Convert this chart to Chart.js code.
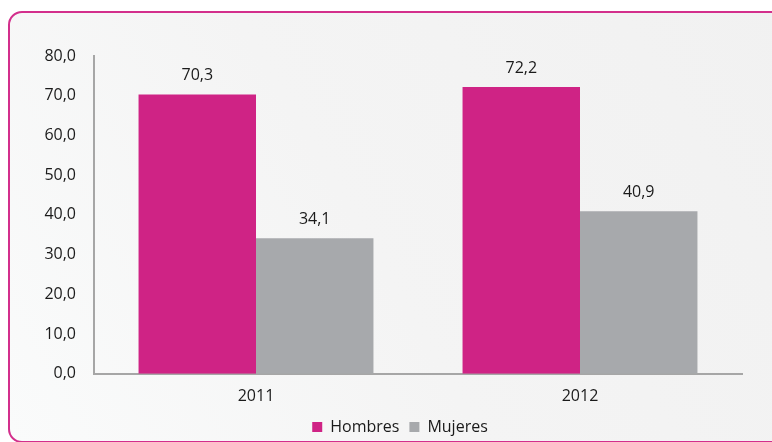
<!DOCTYPE html>
<html>
<head>
<meta charset="utf-8">
<script src="https://cdn.jsdelivr.net/npm/chart.js@4"></script>
<style>
  html, body { margin: 0; padding: 0; background: #fff; }
  #wrap { position: relative; width: 772px; height: 442px; overflow: hidden; }
  #frame {
    position: absolute; left: 8px; top: 11px; width: 800px; height: 428px;
    border: 2px solid #d32f8c; border-radius: 14px;
    background: linear-gradient(60deg, #fafbfb 0%, #f4f4f4 45%, #f1f1f1 100%);
  }
  #chart { position: absolute; left: 0; top: 0; }
</style>
</head>
<body>
<div id="wrap">
  <div id="frame"></div>
  <canvas id="chart" width="772" height="442"></canvas>
</div>
<script>
const years = ["2011", "2012"];
const hombres = [70.3, 72.2];
const mujeres = [34.1, 40.9];
const yTicks = [0, 10, 20, 30, 40, 50, 60, 70, 80];

const fmt = (v) => v.toFixed(1).replace(".", ",");

const barLabels = {
  id: "barLabels",
  afterDatasetsDraw(chart) {
    const ctx = chart.ctx;
    ctx.save();
    ctx.font = "16px 'Open Sans'";
    ctx.fillStyle = "#1a1a1a";
    ctx.textAlign = "center";
    ctx.textBaseline = "middle";
    chart.data.datasets.forEach((ds, i) => {
      chart.getDatasetMeta(i).data.forEach((bar, j) => {
        ctx.fillText(fmt(ds.data[j]), bar.x, bar.y - 19);
      });
    });
    ctx.restore();
  }
};

// the legend in the original sits a bit right of centre
const legendShift = {
  id: "legendShift",
  afterLayout(chart) {
    chart.legend.left += 58;
  }
};

new Chart(document.getElementById("chart"), {
  type: "bar",
  data: {
    labels: years,
    datasets: [
      { label: "Hombres", data: hombres, backgroundColor: "#cf2385" },
      { label: "Mujeres", data: mujeres, backgroundColor: "#a7a9ac" }
    ]
  },
  options: {
    responsive: false,
    animation: false,
    layout: { padding: { left: 0, right: 30, top: 56, bottom: -3 } },
    datasets: { bar: { categoryPercentage: 0.725, barPercentage: 1 } },
    scales: {
      x: {
        afterFit(scale) { scale.height -= 10; },
        grid: { display: false, drawTicks: false },
        border: { display: true, color: "#a6a6a6", width: 2 },
        ticks: { color: "#1a1a1a", font: { family: "'Open Sans'", size: 16 }, padding: 13 }
      },
      y: {
        min: 0,
        max: 80,
        afterFit(scale) { scale.width = 94; },
        afterBuildTicks(scale) { scale.ticks = yTicks.map(v => ({ value: v })); },
        grid: { display: false, drawTicks: false },
        border: { display: true, color: "#a6a6a6", width: 2 },
        ticks: {
          color: "#1a1a1a",
          font: { family: "'Open Sans'", size: 16 },
          padding: 18,
          callback: (v) => fmt(v)
        }
      }
    },
    plugins: {
      legend: {
        position: "bottom",
        labels: {
          boxWidth: 10, boxHeight: 10, padding: 10,
          color: "#1a1a1a",
          font: { family: "'Open Sans'", size: 16 }
        }
      },
      tooltip: { enabled: false }
    }
  },
  plugins: [barLabels, legendShift]
});
</script>
</body>
</html>
